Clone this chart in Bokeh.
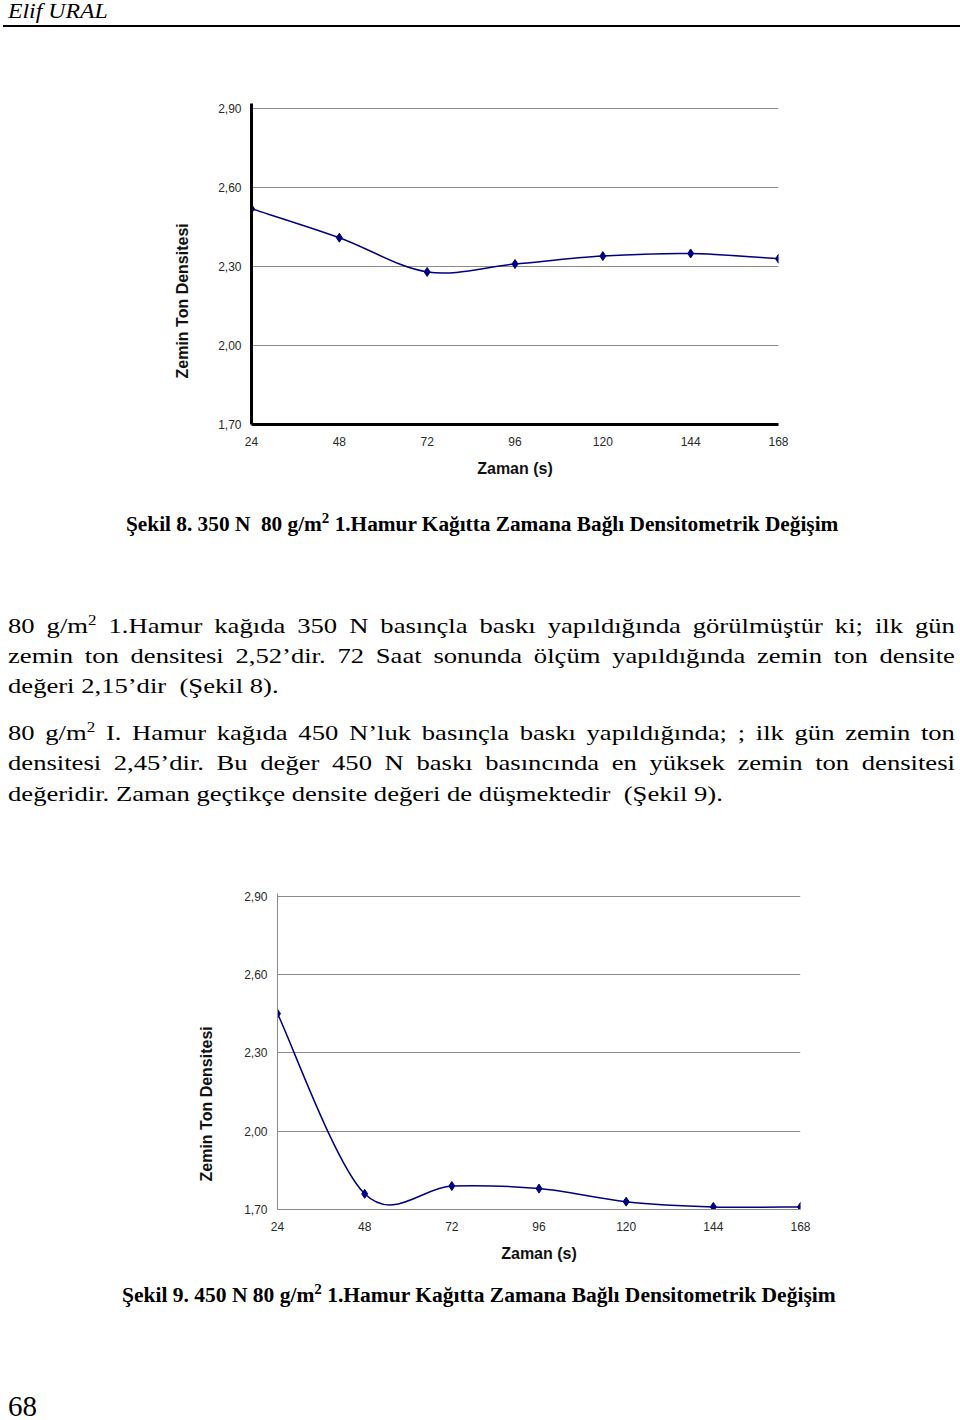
from bokeh.plotting import figure
from bokeh.models import (ColumnDataSource, Range1d, FixedTicker, CustomJSTickFormatter, Div, Title)
from bokeh.layouts import column
from bokeh.embed import file_html
from bokeh.resources import INLINE

# ---------------- data ----------------
hours = [24, 48, 72, 96, 120, 144, 168]
density_350N = [2.52, 2.41, 2.28, 2.31, 2.34, 2.35, 2.33]
density_450N = [2.45, 1.76, 1.79, 1.78, 1.73, 1.71, 1.71]
y_tick_values = [1.70, 2.00, 2.30, 2.60, 2.90]
y_tick_labels = ["1,70", "2,00", "2,30", "2,60", "2,90"]
x_tick_values = [24, 48, 72, 96, 120, 144, 168]
x_title = "Zaman (s)"
y_title = "Zemin Ton Densitesi"

NAVY = "#000080"
SANS = "Liberation Sans"
SERIF = "Liberation Serif"


def smooth_segments(xs, ys):
    """Excel-like smoothed line: cubic Bezier segments (Catmull-Rom control points)."""
    n = len(xs)
    d = dict(x0=[], y0=[], x1=[], y1=[], cx0=[], cy0=[], cx1=[], cy1=[])
    for i in range(n - 1):
        xm, ym = (xs[i - 1], ys[i - 1]) if i > 0 else (xs[i], ys[i])
        xp, yp = (xs[i + 2], ys[i + 2]) if i + 2 < n else (xs[i + 1], ys[i + 1])
        d["x0"].append(xs[i]); d["y0"].append(ys[i])
        d["x1"].append(xs[i + 1]); d["y1"].append(ys[i + 1])
        d["cx0"].append(xs[i] + (xs[i + 1] - xm) / 6.0)
        d["cy0"].append(ys[i] + (ys[i + 1] - ym) / 6.0)
        d["cx1"].append(xs[i + 1] - (xp - xs[i]) / 6.0)
        d["cy1"].append(ys[i + 1] - (yp - ys[i]) / 6.0)
    return ColumnDataSource(d)


BORDER_L, BORDER_R = 251, 160


def make_chart(values, width, height, y_end, heavy_axes, title_offset, title_standoff, left_margin):
    p = figure(width=width, height=height, output_backend="svg", toolbar_location=None,
               x_range=Range1d(24, 168), y_range=Range1d(1.70, y_end),
               min_border_left=BORDER_L, min_border_right=BORDER_R,
               min_border_top=63, min_border_bottom=66,
               margin=(0, 0, 0, left_margin))
    p.outline_line_color = None
    p.background_fill_color = "white"
    p.border_fill_color = "white"
    p.xgrid.grid_line_color = None
    p.ygrid.ticker = FixedTicker(ticks=y_tick_values)
    p.ygrid.grid_line_color = "#8a8a8a"
    p.ygrid.grid_line_width = 1

    p.yaxis.ticker = FixedTicker(ticks=y_tick_values)
    p.yaxis.formatter = CustomJSTickFormatter(
        args=dict(vals=y_tick_values, labs=y_tick_labels),
        code="""
        let b = 0;
        for (let i = 0; i < vals.length; i++) {
            if (Math.abs(vals[i] - tick) < Math.abs(vals[b] - tick)) { b = i; }
        }
        return labs[b];
        """)
    p.xaxis.ticker = FixedTicker(ticks=x_tick_values)

    for ax in (p.xaxis[0], p.yaxis[0]):
        ax.major_tick_out = 0
        ax.major_tick_in = 0
        ax.minor_tick_out = 0
        ax.minor_tick_in = 0
        ax.major_label_text_font = SANS
        ax.major_label_text_font_size = "12px"
        ax.major_label_text_color = "#2a2a2a"
        ax.axis_label_text_font = SANS
        ax.axis_label_text_font_style = "bold"
        ax.axis_label_text_font_size = "16px"
        ax.axis_label_text_color = "#111111"
        if heavy_axes:
            ax.axis_line_color = "black"
            ax.axis_line_width = 3
        else:
            ax.axis_line_color = "#8a8a8a"
            ax.axis_line_width = 1

    p.xaxis.axis_label = x_title
    p.yaxis.major_label_standoff = 10
    p.xaxis.major_label_standoff = 12
    p.xaxis.axis_label_standoff = 11

    # y-axis title as a left-side Title, placed lower than centre like in the original
    p.add_layout(Title(text=y_title, align="left", offset=title_offset, standoff=title_standoff,
                       text_font=SANS, text_font_style="bold", text_font_size="16px",
                       text_color="#111111"), "left")

    src = smooth_segments(hours, values)
    p.bezier(x0="x0", y0="y0", x1="x1", y1="y1", cx0="cx0", cy0="cy0",
             cx1="cx1", cy1="cy1", source=src, line_color=NAVY, line_width=1.5)
    p.scatter(hours, values, marker="diamond", size=9, fill_color=NAVY, line_color=NAVY)
    return p


# chart 1: frame x 251..778 ; chart 2: frame x 277..800
fig1 = make_chart(density_350N, BORDER_L + 527 + BORDER_R, 450, 2.92, True, 46, 49, 0)
fig2 = make_chart(density_450N, BORDER_L + 523 + BORDER_R, 445, 2.91, False, 28, 53, 26)


def line_div(text, left, top, width, size, scale, justify=True, bold=False, italic=False, lh=30):
    style = (f"position:absolute;left:{left}px;top:{top}px;width:{width}px;"
             f"font-family:'{SERIF}';font-size:{size}px;line-height:{lh}px;color:#000;"
             f"transform:scaleX({scale});transform-origin:0 0;")
    if justify:
        style += "text-align:justify;text-align-last:justify;"
    else:
        style += "text-align:left;"
    if bold:
        style += "font-weight:bold;"
    if italic:
        style += "font-style:italic;"
    return f'<div style="{style}">{text}</div>'


SUP = '<span style="font-size:14px;vertical-align:super;line-height:0">2</span>'

header = Div(width=960, height=40, margin=0, text=(
    '<div style="position:relative;width:960px;height:40px;">'
    + line_div("Elif URAL", 8, 0, 200, 22, 1.08, justify=False, italic=True, lh=22)
    + '<div style="position:absolute;left:3px;top:25px;width:957px;height:2px;background:#000;"></div>'
    '</div>'))

S = 1.21
W = round(947 / S, 1)
mid_html = '<div style="position:relative;width:960px;height:340px;">'
mid_html += line_div("Şekil 8. 350 N&nbsp; 80 g/m" + SUP + " 1.Hamur Kağıtta Zamana Bağlı Densitometrik Değişim",
                     126, 22, 800, 20, 1.065, justify=False, bold=True, lh=24)
para_lines = [
    ("80 g/m" + SUP + " 1.Hamur kağıda 350 N basınçla baskı yapıldığında görülmüştür ki; ilk gün", 143, True),
    ("zemin ton densitesi 2,52’dir. 72 Saat sonunda ölçüm yapıldığında zemin ton densite", 173, True),
    ("değeri 2,15’dir&nbsp; (Şekil 8).", 203, False),
    ("80 g/m" + SUP + " I. Hamur kağıda 450 N’luk basınçla baskı yapıldığında; ; ilk gün zemin ton", 250, True),
    ("densitesi 2,45’dir. Bu değer 450 N baskı basıncında en yüksek zemin ton densitesi", 280, True),
    ("değeridir. Zaman geçtikçe densite değeri de düşmektedir&nbsp; (Şekil 9).", 311, False),
]
for txt, base, just in para_lines:
    mid_html += line_div(txt, 8, base - 22, W, 22, S, justify=just)
mid_html += '</div>'
mid = Div(width=960, height=340, margin=0, text=mid_html)

bottom = Div(width=960, height=145, margin=0, text=(
    '<div style="position:relative;width:960px;height:145px;">'
    + line_div("Şekil 9. 450 N 80 g/m" + SUP + " 1.Hamur Kağıtta Zamana Bağlı Densitometrik Değişim",
               122, 8, 800, 20, 1.075, justify=False, bold=True, lh=24)
    + line_div("68", 8, 121, 60, 29, 1.0, justify=False, lh=20)
    + '</div>'))

layout = column(header, fig1, mid, fig2, bottom, spacing=0, margin=0)

open("out.html", "w").write(file_html(layout, INLINE, "Şekil 8 - Şekil 9"))
